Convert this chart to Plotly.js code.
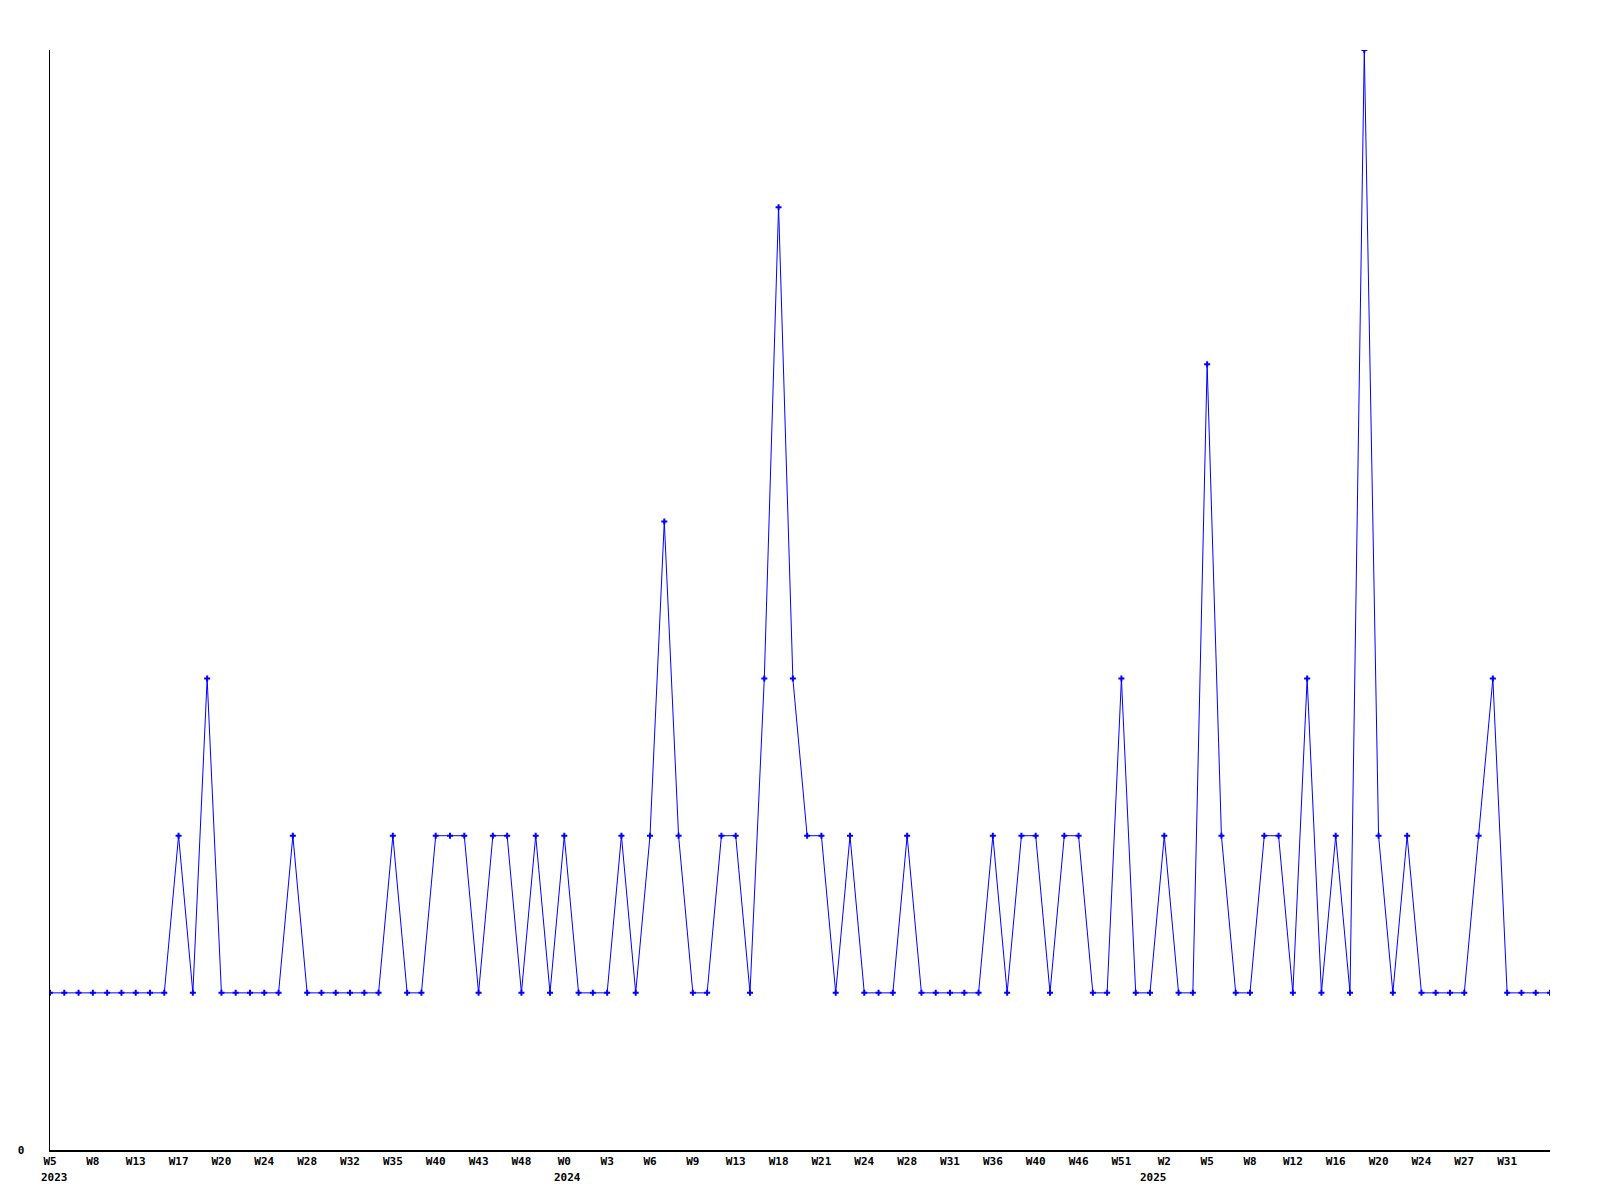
<!DOCTYPE html>
<html>
<head>
<meta charset="utf-8">
<script src="https://cdn.plot.ly/plotly-3.0.1.min.js"></script>
<style>html,body{margin:0;padding:0;background:#fff;}#chart{width:1600px;height:1200px;}</style>
</head>
<body>
<div id="chart"></div>
<script>
// Weekly values, one per point (106 points)
const values = [
  1,1,1,1,1,1,1,1,1,2,
  1,3,1,1,1,1,1,2,1,1,
  1,1,1,1,2,1,1,2,2,2,
  1,2,2,1,2,1,2,1,1,1,
  2,1,2,4,2,1,1,2,2,1,
  3,6,3,2,2,1,2,1,1,1,
  2,1,1,1,1,1,2,1,2,2,
  1,2,2,1,1,3,1,1,2,1,
  1,5,2,1,1,2,2,1,3,1,
  2,1,7,2,1,2,1,1,1,1,
  2,3,1,1,1,1
];
// Tick labels shown every third point
const tickLabels = ["W5","W8","W13","W17","W20","W24","W28","W32","W35","W40","W43","W48",
  "W0","W3","W6","W9","W13","W18","W21","W24","W28","W31","W36","W40","W46",
  "W51","W2","W5","W8","W12","W16","W20","W24","W27","W31"];
const tickStep = 3;
// Year labels and the point index where each year starts
const years = ["2023","2024","2025"];
const yearStartIndex = [0, 36, 78];
const yearShift = [4, 3, -11];

const xs = values.map((v, i) => i);
const tickVals = tickLabels.map((t, i) => i * tickStep);
const font = {family: "DejaVu Sans Mono", size: 11, color: "#000"};

const trace = {
  x: xs, y: values, type: "scatter", mode: "lines+markers",
  line: {color: "#0000ff", width: 1},
  marker: {color: "#0000ff", symbol: "cross", size: 5, line: {width: 0}},
  hoverinfo: "skip"
};

const annotations = years.map((y, k) => ({
  text: "<b>" + y + "</b>", x: yearStartIndex[k], xref: "x", xanchor: "center", xshift: yearShift[k],
  y: 0, yref: "paper", yanchor: "middle", yshift: -27, showarrow: false, font: font
}));

const layout = {
  width: 1600, height: 1200,
  margin: {l: 50, r: 49.5, t: 50, b: 50},
  paper_bgcolor: "#fff", plot_bgcolor: "#fff",
  showlegend: false,
  font: font,
  xaxis: {
    range: [0, values.length - 1], showgrid: false, zeroline: false,
    showline: true, linecolor: "#000", linewidth: 1.5, ticks: "",
    tickmode: "array", tickvals: tickVals, ticktext: tickLabels.map(t => "<b>" + t + "</b>"),
    tickangle: 0, tickfont: font, fixedrange: true
  },
  yaxis: {
    range: [0, 7], showgrid: false, zeroline: false,
    showline: true, linecolor: "#000", linewidth: 1.5, ticks: "",
    tickmode: "array", tickvals: [0], ticktext: ["<b>0</b>"], tickfont: font,
    ticklabelstandoff: 22, fixedrange: true
  },
  annotations: annotations
};

Plotly.newPlot("chart", [trace], layout, {staticPlot: true, displayModeBar: false});
</script>
</body>
</html>
